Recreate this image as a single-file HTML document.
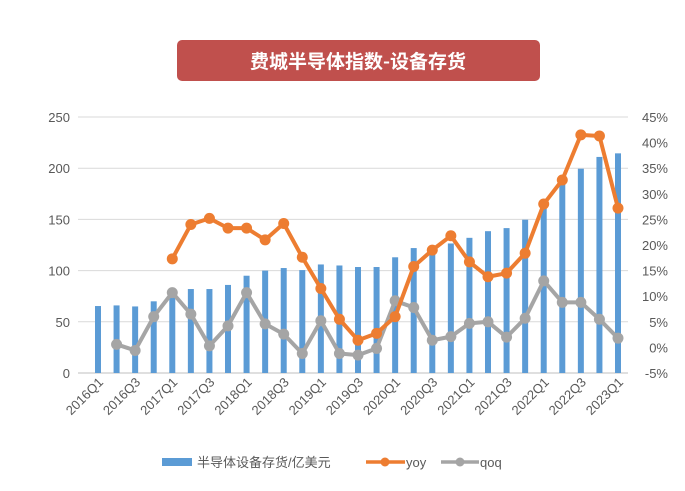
<!DOCTYPE html>
<html><head><meta charset="utf-8"><style>
body{margin:0;background:#fff;}
svg{display:block;font-family:"Liberation Sans","Noto Sans CJK SC",sans-serif;}
</style></head><body>
<svg id="chart" width="685" height="491">
<rect x="0" y="0" width="685" height="491" fill="#fff"/>
<rect x="177" y="40" width="363" height="41" rx="5" fill="#c0504d"/>
<text x="358" y="68" text-anchor="middle" fill="#fff" font-size="19" font-weight="bold" font-family="'Noto Sans CJK SC',sans-serif">费城半导体指数-设备存货</text>
<g id="grid"></g><g id="bars"></g><g id="lines"></g><g id="axes"></g>
<g>
<rect x="162" y="458" width="30" height="8" fill="#5b9bd5"/>
<text x="197" y="467" font-size="13" fill="#595959">半导体设备存货/亿美元</text>
<line x1="366" y1="462" x2="405" y2="462" stroke="#ed7d31" stroke-width="3.5"/>
<circle cx="385" cy="462" r="4.5" fill="#ed7d31"/>
<text x="406" y="467" font-size="13" fill="#595959">yoy</text>
<line x1="441" y1="462" x2="479" y2="462" stroke="#a5a5a5" stroke-width="3.5"/>
<circle cx="460" cy="462" r="4.5" fill="#a5a5a5"/>
<text x="480" y="467" font-size="13" fill="#595959">qoq</text>
</g>
</svg>
<script>
const categories=["2016Q1","2016Q2","2016Q3","2016Q4","2017Q1","2017Q2","2017Q3","2017Q4","2018Q1","2018Q2","2018Q3","2018Q4","2019Q1","2019Q2","2019Q3","2019Q4","2020Q1","2020Q2","2020Q3","2020Q4","2021Q1","2021Q2","2021Q3","2021Q4","2022Q1","2022Q2","2022Q3","2022Q4","2023Q1"];
const inventory=[65.4,66,65,70,77,82,82,86,95,100,102.5,100.5,106,105,103.5,103.5,113,122,119,126.5,132,138.5,141.5,149.7,165,185,199.5,211,214.5];
const yoy=[null,null,null,null,17.3,24.0,25.2,23.3,23.3,21.0,24.2,17.6,11.5,5.5,1.4,2.75,6.0,15.8,19.0,21.8,16.7,13.8,14.5,18.4,28.0,32.7,41.5,41.3,27.2];
const qoq=[null,0.6,-0.6,6.0,10.7,6.5,0.3,4.2,10.7,4.6,2.6,-1.2,5.2,-1.2,-1.5,-0.2,9.1,7.8,1.4,2.1,4.7,5.0,2.0,5.7,13.0,8.8,8.8,5.5,1.8];
const leftTicks=[0,50,100,150,200,250];
const rightTicks=[-5,0,5,10,15,20,25,30,35,40,45];
const NS="http://www.w3.org/2000/svg";
const x0=98,x1=618,yTop=117,yBot=373,plotL=78,plotR=628;
const xs=i=>x0+(x1-x0)*i/(categories.length-1);
const yL=v=>yBot-(yBot-yTop)*v/250;
const yR=v=>yBot-(yBot-yTop)*(v+5)/50;
function mk(tag,attrs,parent){const e=document.createElementNS(NS,tag);for(const k in attrs)e.setAttribute(k,attrs[k]);document.getElementById(parent).appendChild(e);return e;}
leftTicks.forEach(t=>{
  const l=mk('line',{x1:plotL,x2:plotR,y1:yL(t),y2:yL(t),stroke:t===0?'#bfbfbf':'#d9d9d9','stroke-width':1},'grid');
  
  
  const tx=mk('text',{x:70,y:yL(t)+5,'text-anchor':'end','font-size':13,fill:'#595959'},'axes');
  tx.textContent=t;
  
  
});
rightTicks.forEach(t=>{
  const tx=mk('text',{x:668,y:yR(t)+5,'text-anchor':'end','font-size':13,fill:'#595959'},'axes');
  tx.textContent=t+'%';
  
  
});
categories.forEach((c,i)=>{
  const b=mk('rect',{x:xs(i)-3,y:yL(inventory[i]),width:6,height:yBot-yL(inventory[i]),fill:'#5b9bd5'},'bars');
  
  
  if(i%2===0){
    const tx=mk('text',{x:xs(i)+6,y:383,'text-anchor':'end','font-size':13,fill:'#595959',transform:`rotate(-45 ${xs(i)+6} 383)`},'axes');
    tx.textContent=c;
    
    
  }
});
function series(arr,color,name){
  let d='';arr.forEach((v,i)=>{if(v===null)return;d+=(d?'L':'M')+xs(i)+' '+yR(v);});
  const p=mk('path',{d:d,fill:'none',stroke:color,'stroke-width':4,'stroke-linejoin':'round'},'lines');
  
  
  arr.forEach((v,i)=>{if(v===null)return;
    const c=mk('circle',{cx:xs(i),cy:yR(v),r:5.5,fill:color},'lines');
    
    
  });
}
series(qoq,'#a5a5a5','qoq');
series(yoy,'#ed7d31','yoy');
</script>
</body></html>
